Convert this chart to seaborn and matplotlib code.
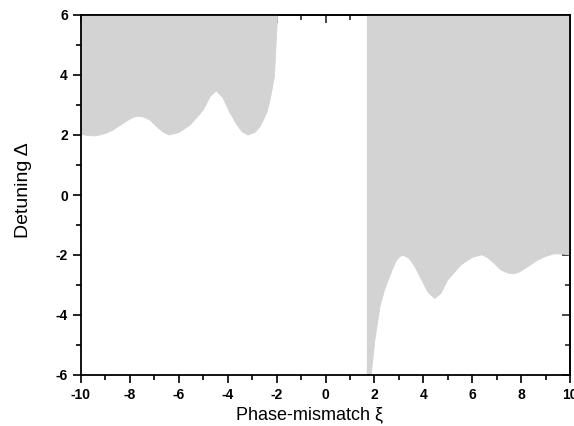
import matplotlib
matplotlib.use("Agg")
import matplotlib.pyplot as plt
import seaborn as sns
import pandas as pd
from matplotlib.ticker import MultipleLocator

# Boundary of the shaded region, left branch (shaded above the curve)
left_xi = [-10.0, -9.7, -9.4, -9.0, -8.68, -8.27, -7.95, -7.7, -7.45, -7.18, -6.9,
           -6.65, -6.4, -6.0, -5.54, -5.0, -4.72, -4.47, -4.2, -3.9, -3.63, -3.4,
           -3.17, -2.9, -2.7, -2.54, -2.4, -2.3, -2.2, -2.09, -2.02, -1.96, -1.9, -1.69]
left_delta = [2.02, 1.98, 1.97, 2.05, 2.17, 2.39, 2.56, 2.63, 2.6, 2.5, 2.28,
              2.1, 2.0, 2.08, 2.33, 2.83, 3.28, 3.47, 3.25, 2.73, 2.35, 2.1,
              2.0, 2.08, 2.25, 2.5, 2.75, 3.06, 3.45, 3.94, 5.06, 6.0, 7.2, 9.0]

# Right branch (also shaded above the curve)
right_xi = [1.69, 1.8, 1.89, 2.02, 2.23, 2.4, 2.57, 2.75, 2.91, 3.05, 3.18, 3.4,
            3.63, 3.87, 4.2, 4.47, 4.72, 5.0, 5.54, 6.0, 6.4, 6.65, 6.9, 7.18,
            7.45, 7.7, 7.95, 8.27, 8.68, 9.0, 9.35, 9.7, 10.0]
right_delta = [-9.0, -6.8, -5.83, -4.83, -3.72, -3.2, -2.83, -2.45, -2.17, -2.05, -2.01, -2.1,
               -2.35, -2.73, -3.25, -3.45, -3.28, -2.83, -2.33, -2.08, -1.99, -2.1, -2.28, -2.5,
               -2.6, -2.63, -2.56, -2.39, -2.17, -2.05, -1.96, -1.97, -2.0]

x_range = (-10, 10)
y_range = (-6, 6)

left_df = pd.DataFrame({"xi": left_xi, "delta": left_delta})
right_df = pd.DataFrame({"xi": right_xi, "delta": right_delta})

sns.set_theme(style="ticks")
plt.rcParams["font.family"] = ["Liberation Sans", "DejaVu Sans"]
plt.rcParams["axes.unicode_minus"] = False
plt.rcParams["text.color"] = "black"
plt.rcParams["axes.labelcolor"] = "black"

fig = plt.figure(figsize=(5.74, 4.26), dpi=100)
ax = fig.add_axes([81 / 574, 1 - 375 / 426, (570 - 81) / 574, (375 - 15) / 426])

shade = "#d3d3d3"
ax.fill_between(left_df["xi"], left_df["delta"], 20, color=shade, linewidth=0)
ax.fill_between(right_df["xi"], right_df["delta"], 20, color=shade, linewidth=0)
sns.lineplot(data=left_df, x="xi", y="delta", color=shade, linewidth=0.6, ax=ax, sort=False)
sns.lineplot(data=right_df, x="xi", y="delta", color=shade, linewidth=0.6, ax=ax, sort=False)

ax.set_xlim(*x_range)
ax.set_ylim(*y_range)
ax.xaxis.set_major_locator(MultipleLocator(2))
ax.xaxis.set_minor_locator(MultipleLocator(1))
ax.yaxis.set_major_locator(MultipleLocator(2))
ax.yaxis.set_minor_locator(MultipleLocator(1))

for s in ax.spines.values():
    s.set_linewidth(1.3)
    s.set_color("black")
    s.set_visible(True)

ax.tick_params(which="both", direction="out", width=1.2, colors="black",
               labelsize=10, top=False, right=False)
ax.tick_params(which="major", length=6)
ax.tick_params(which="minor", length=3.5)

# mirrored inward ticks on top and right
top = ax.secondary_xaxis("top")
top.xaxis.set_major_locator(MultipleLocator(2))
top.xaxis.set_minor_locator(MultipleLocator(1))
top.tick_params(which="both", direction="in", width=1.2, labeltop=False)
top.tick_params(which="major", length=6)
top.tick_params(which="minor", length=3.5)
right = ax.secondary_yaxis("right")
right.yaxis.set_major_locator(MultipleLocator(2))
right.yaxis.set_minor_locator(MultipleLocator(1))
right.tick_params(which="both", direction="in", width=1.2, labelright=False)
right.tick_params(which="major", length=6)
right.tick_params(which="minor", length=3.5)

for lab in ax.get_xticklabels() + ax.get_yticklabels():
    lab.set_fontweight("bold")

ax.set_xlabel("Phase-mismatch ξ", fontsize=13)
ax.set_ylabel("Detuning Δ", fontsize=14)
ax.xaxis.set_label_coords((309 - 81) / 489, -(406 - 375) / 360)
ax.yaxis.set_label_coords(-(81 - 32) / 489, (375 - 190) / 360)

fig.savefig("out.png", dpi=100)
